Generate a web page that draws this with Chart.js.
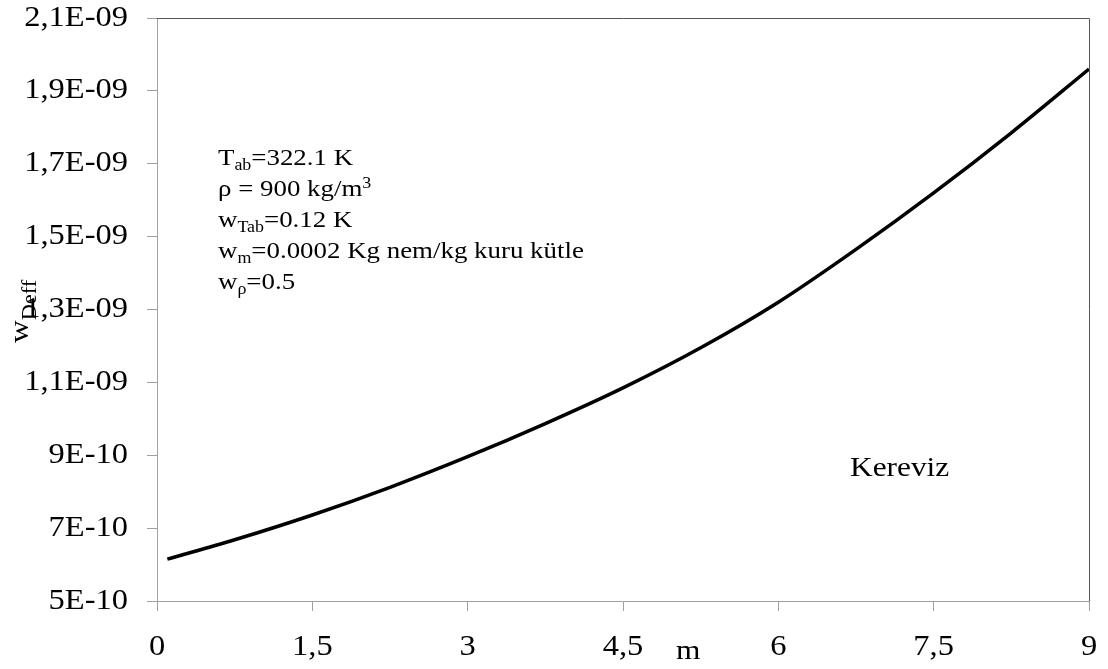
<!DOCTYPE html>
<html>
<head>
<meta charset="utf-8">
<script src="https://cdn.jsdelivr.net/npm/chart.js@4.4.0/dist/chart.umd.min.js"></script>
<style>
  html, body { margin: 0; padding: 0; background: #fff; }
  #wrap { width: 1108px; height: 669px; }
</style>
</head>
<body>
<div id="wrap"><canvas id="deffChart" width="1108" height="669"></canvas></div>
<script>
// moisture content (m) and uncertainty of effective diffusivity
const mValues = [0.1, 0.75, 1.5, 2.25, 3, 3.75, 4.5, 5.25, 6, 6.75, 7.5, 8.25, 9];
const wDeffValues = [6.15e-10, 6.68e-10, 7.36e-10, 8.12e-10, 8.96e-10, 9.87e-10, 10.85e-10,
  11.95e-10, 13.2e-10, 14.65e-10, 16.2e-10, 17.85e-10, 19.6e-10];

const xTickValues = [0, 1.5, 3, 4.5, 6, 7.5, 9];
const xTickLabels = ['0', '1,5', '3', '4,5', '6', '7,5', '9'];
const yTickValues = [5e-10, 7e-10, 9e-10, 11e-10, 13e-10, 15e-10, 17e-10, 19e-10, 21e-10];
const yTickLabels = ['5E-10', '7E-10', '9E-10', '1,1E-09', '1,3E-09', '1,5E-09', '1,7E-09', '1,9E-09', '2,1E-09'];

const FONT = '"Liberation Serif", "Times New Roman", serif';
const AXIS_GRAY = '#a0a0a0';
const SX = 1.12; // wide Times-like lettering

// draws a run of text pieces, each with its own size and baseline shift
function drawRuns(ctx, x, y, runs, align) {
  ctx.save();
  ctx.translate(x, y);
  ctx.scale(SX, 1);
  let total = 0;
  runs.forEach(r => {
    ctx.font = r.size + 'px ' + FONT;
    total += ctx.measureText(r.t).width;
  });
  let cx = align === 'right' ? -total : align === 'center' ? -total / 2 : 0;
  ctx.textAlign = 'left';
  runs.forEach(r => {
    ctx.font = r.size + 'px ' + FONT;
    ctx.fillText(r.t, cx, r.dy || 0);
    cx += ctx.measureText(r.t).width;
  });
  ctx.restore();
}

const textPlugin = {
  id: 'chartTexts',
  afterDraw(chart) {
    const ctx = chart.ctx;
    const area = chart.chartArea;
    const xs = chart.scales.x;
    const ys = chart.scales.y;
    ctx.save();

    // frame: top and right edges of the plot area
    ctx.strokeStyle = '#555';
    ctx.lineWidth = 1;
    ctx.beginPath();
    ctx.moveTo(area.left, area.top + 0.5);
    ctx.lineTo(area.right + 0.5, area.top + 0.5);
    ctx.lineTo(area.right + 0.5, area.bottom);
    ctx.stroke();

    ctx.fillStyle = '#000';

    // tick labels
    ctx.textBaseline = 'middle';
    ys.ticks.forEach((t, i) => {
      drawRuns(ctx, area.left - 29, ys.getPixelForValue(t.value), [{ t: yTickLabels[i], size: 29 }], 'right');
    });
    xs.ticks.forEach((t, i) => {
      drawRuns(ctx, xs.getPixelForValue(t.value), 647, [{ t: xTickLabels[i], size: 29 }], 'center');
    });

    ctx.textBaseline = 'alphabetic';

    // parameter block
    const lines = [
      [{ t: 'T', size: 24 }, { t: 'ab', size: 16, dy: 5 }, { t: '=322.1 K', size: 24 }],
      [{ t: '\u03c1 = 900 kg/m', size: 24 }, { t: '3', size: 16, dy: -8 }],
      [{ t: 'w', size: 24 }, { t: 'Tab', size: 16, dy: 5 }, { t: '=0.12 K', size: 24 }],
      [{ t: 'w', size: 24 }, { t: 'm', size: 16, dy: 5 }, { t: '=0.0002 Kg nem/kg kuru k\u00fctle', size: 24 }],
      [{ t: 'w', size: 24 }, { t: '\u03c1', size: 16, dy: 5 }, { t: '=0.5', size: 24 }]
    ];
    lines.forEach((runs, i) => drawRuns(ctx, 218, 165 + i * 31, runs));

    // series label
    drawRuns(ctx, 850, 476, [{ t: 'Kereviz', size: 28 }]);

    // x axis title
    drawRuns(ctx, 676, 659, [{ t: 'm', size: 28 }]);

    // y axis title, rotated
    ctx.save();
    ctx.translate(28, 343);
    ctx.rotate(-Math.PI / 2);
    drawRuns(ctx, 0, 0, [{ t: 'w', size: 28 }, { t: 'Deff', size: 20, dy: 8 }]);
    ctx.restore();

    ctx.restore();
  }
};

function noPad(s) {
  s.paddingTop = 0;
  s.paddingBottom = 0;
  s.paddingLeft = 0;
  s.paddingRight = 0;
}

new Chart(document.getElementById('deffChart'), {
  type: 'line',
  data: {
    datasets: [{
      data: mValues.map((m, i) => ({ x: m, y: wDeffValues[i] })),
      borderColor: '#000',
      borderWidth: 3.5,
      pointRadius: 0,
      fill: false,
      cubicInterpolationMode: 'monotone'
    }]
  },
  options: {
    responsive: false,
    animation: false,
    layout: { padding: { top: 18, right: 19, bottom: 0, left: 0 } },
    plugins: {
      legend: { display: false },
      tooltip: { enabled: false }
    },
    scales: {
      x: {
        type: 'linear',
        min: 0,
        max: 9,
        afterBuildTicks: s => { s.ticks = xTickValues.map(v => ({ value: v })); },
        afterFit: s => { s.height = 68; noPad(s); },
        border: { display: true, color: AXIS_GRAY, width: 1 },
        grid: { drawOnChartArea: false, drawTicks: true, tickLength: 10, color: AXIS_GRAY },
        ticks: { display: false }
      },
      y: {
        type: 'linear',
        min: 5e-10,
        max: 21e-10,
        afterBuildTicks: s => { s.ticks = yTickValues.map(v => ({ value: v })); },
        afterFit: s => { s.width = 157; noPad(s); },
        border: { display: true, color: AXIS_GRAY, width: 1 },
        grid: { drawOnChartArea: false, drawTicks: true, tickLength: 10, color: AXIS_GRAY },
        ticks: { display: false }
      }
    }
  },
  plugins: [textPlugin]
});
</script>
</body>
</html>
